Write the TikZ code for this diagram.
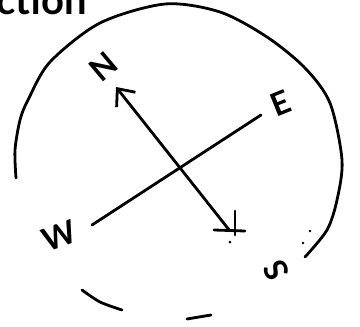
\documentclass[tikz,border=0pt]{standalone}
\usepackage{fontspec}
\setmainfont{Lato}
\usetikzlibrary{arrows.meta}
\begin{document}
\begin{tikzpicture}[x=1pt,y=-1pt,
  ink/.style={line width=2.8pt,line cap=round,line join=round,black},
  letter/.style={font=\bfseries\fontsize{32}{32}\selectfont,inner sep=0pt}]
\useasboundingbox (0,0) rectangle (360,327);
% partial title at top (cut off by the top edge, as in the reference)
\node[font=\bfseries\fontsize{40}{40}\selectfont,inner sep=0pt,anchor=base west] (title) at (-4,14) {ction};
% outer circle arcs
\draw[ink] plot[smooth] coordinates {(16,178) (15,150) (20,120) (28,100) (50,62) (100,23) (165,4) (220,12) (267,37) (305,68) (330,103) (342,160) (337,200) (327,230) (305,257)};
\draw[ink] plot[smooth] coordinates {(82,290) (100,302) (122,310)};
\draw[ink] (187,319) -- (211,315);
% ends of the two lines
\coordinate (ntip) at (116,87);
\coordinate (stail) at (230,231);
\coordinate (wend) at (92,225);
\coordinate (eend) at (261,115);
\draw[ink,-{Straight Barb[length=14pt,width=24pt]}] (stail) -- (ntip);
\draw[ink] (wend) -- (eend);
% cross at the tail
\coordinate (cl) at (214,230);
\coordinate (cr) at (245,231);
\coordinate (ct) at (235,211);
\coordinate (cb) at (235,235);
\draw[ink] (cl) -- (cr);
\draw[ink] (ct) -- (cb);
\fill (230,242) circle (1.5pt);
\fill (310,231) circle (1.3pt);
\fill (303,243) circle (1.3pt);
% letters
\node[letter,rotate=40] (N) at (104,67) {N};
\node[letter,rotate=22] (E) at (281,103) {E};
\node[letter,rotate=20] (W) at (59,236) {W};
\node[letter,rotate=115] (S) at (276,270) {S};
\end{tikzpicture}
\end{document}
